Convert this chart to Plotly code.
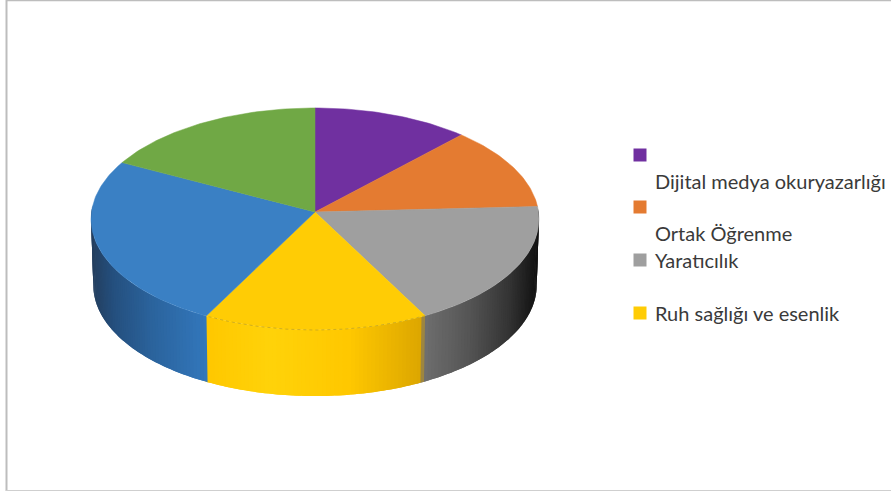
import math
import plotly.graph_objects as go

categories = ["Dijital medya okuryazarlığı", "Ortak Öğrenme", "Yaratıcılık",
              "Ruh sağlığı ve esenlik", "Öz farkındalık", "Eleştirel düşünme"]
values = [12.0, 12.2, 18.1, 15.3, 25.0, 17.4]
colors = ["#7030a0", "#e47b31", "#9f9f9f", "#ffcc05", "#3a80c4", "#70a845"]
legend_labels = ["Dijital medya okuryazarlığı", "Ortak Öğrenme", "Yaratıcılık", "Ruh sağlığı ve esenlik"]
legend_colors = ["#7030a0", "#e47b31", "#9f9f9f", "#ffcc05"]

W, H = 891, 492
CX, CY, R, RT, A, DEPTH = 315.0, 212.0, 223.5, 110.6, 0.063, 66.0
STOPS = [(91, "#243f5f"), (113, "#25507f"), (150, "#2b639c"), (207, "#3378bd"), (207.5, "#ffc800"),
         (270, "#ffd30a"), (350, "#ffc800"), (423, "#dca600"), (423.5, "#707070"), (470, "#555555"),
         (510, "#343434"), (539, "#111111")]


def project(theta):
    k = 1.0 / (1.0 + A * math.cos(theta))
    return CX + R * math.sin(theta) * k, CY - RT * math.cos(theta) * k


def lower(x, y):
    return CX + (x - CX) * 0.99, y + DEPTH


def side_color(x):
    if x <= STOPS[0][0]:
        return STOPS[0][1]
    for (x0, c0), (x1, c1) in zip(STOPS, STOPS[1:]):
        if x <= x1:
            t = (x - x0) / (x1 - x0)
            p = [int(c0[i:i + 2], 16) * (1 - t) + int(c1[i:i + 2], 16) * t for i in (1, 3, 5)]
            return "rgb(%d,%d,%d)" % tuple(p)
    return STOPS[-1][1]


fig = go.Figure()
total = sum(values)
edges = [0.0]
for v in values:
    edges.append(edges[-1] + v / total * 2 * math.pi)

# side wall of the disc (front half only); each strip overlaps the next so no seams show
step = math.radians(1.0)
t = math.pi / 2 - 0.03
while t < 3 * math.pi / 2 + 0.03:
    t1 = t + step
    t2 = t + 2 * step
    pts = [project(t), project(t1), project(t2)]
    low = [lower(*p) for p in pts]
    xs = [p[0] for p in pts] + [p[0] for p in reversed(low)] + [pts[0][0]]
    ys = [p[1] for p in pts] + [p[1] for p in reversed(low)] + [pts[0][1]]
    c = side_color((pts[0][0] + pts[1][0]) / 2)
    fig.add_trace(go.Scatter(x=xs, y=ys, mode="none", fill="toself", fillcolor=c,
                             hoverinfo="skip", showlegend=False))
    t = t1

# top surface
for i, name in enumerate(categories):
    n = max(2, int((edges[i + 1] - edges[i]) / math.radians(1)))
    arc = [project(edges[i] + (edges[i + 1] - edges[i]) * j / n) for j in range(n + 1)]
    xs = [CX] + [p[0] for p in arc] + [CX]
    ys = [CY] + [p[1] for p in arc] + [CY]
    fig.add_trace(go.Scatter(x=xs, y=ys, mode="lines", fill="toself", fillcolor=colors[i],
                             line=dict(color=colors[i], width=0.5), name=name, showlegend=False,
                             hovertemplate=name + ": %{text}<extra></extra>", text=[values[i]] * len(xs)))
    if i == 3:
        fig.add_trace(go.Scatter(x=[p[0] for p in arc], y=[p[1] for p in arc], mode="lines",
                                 line=dict(color="#c4a420", width=0.8, dash="dot"),
                                 hoverinfo="skip", showlegend=False))

# legend, drawn at its position in the reference
LEG_MARK_X, LEG_TEXT_X = 640, 653
LEG_MARK_Y = [155, 207, 260, 313]
LEG_TEXT_Y = [181, 233, 260, 313]
fig.add_trace(go.Scatter(x=[LEG_MARK_X] * 4, y=LEG_MARK_Y, mode="markers",
                         marker=dict(symbol="square", size=13, color=legend_colors),
                         hoverinfo="skip", showlegend=False))
for label, y in zip(legend_labels, LEG_TEXT_Y):
    fig.add_annotation(x=LEG_TEXT_X, y=y, text=label, showarrow=False, xanchor="left", yanchor="middle",
                       font=dict(family="Lato", size=20, color="#3a3a3a"))

# frame of the screenshot
fig.add_shape(type="line", x0=6.5, x1=6.5, y0=0, y1=491, line=dict(color="#bdbdbd", width=2))
fig.add_shape(type="line", x0=6, x1=891, y0=0.5, y1=0.5, line=dict(color="#bdbdbd", width=1.5))
fig.add_shape(type="line", x0=6, x1=891, y0=490.5, y1=490.5, line=dict(color="#cfcfcf", width=1.2))

fig.update_layout(width=W, height=H, margin=dict(l=0, r=0, t=0, b=0), paper_bgcolor="white",
                  plot_bgcolor="white", showlegend=False,
                  xaxis=dict(range=[0, W], visible=False, fixedrange=True),
                  yaxis=dict(range=[H, 0], visible=False, fixedrange=True))
fig.write_html("out.html", config={"displayModeBar": False},
               post_script="document.body.style.margin='0';document.body.style.overflow='hidden';")
